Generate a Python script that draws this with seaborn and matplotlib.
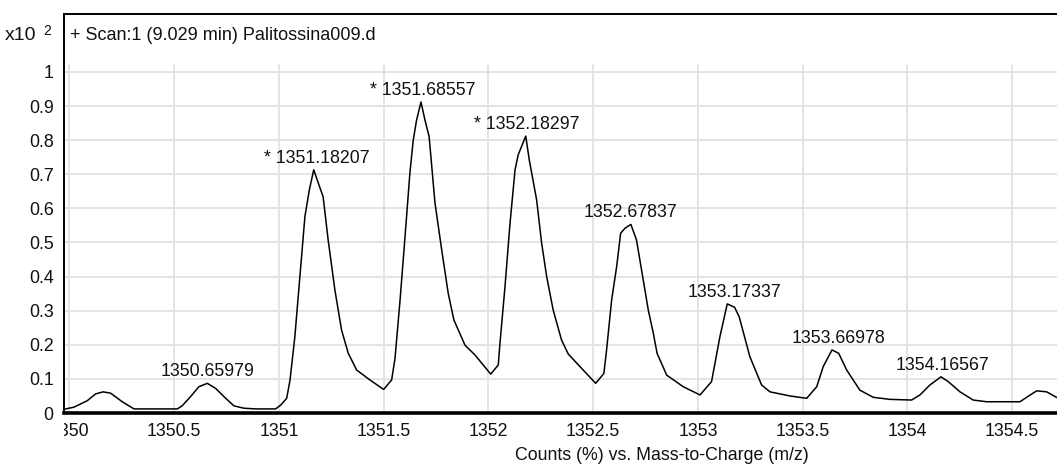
import matplotlib
matplotlib.use("Agg")
import matplotlib.pyplot as plt
import seaborn as sns
import pandas as pd
from matplotlib.transforms import Bbox, TransformedBbox, IdentityTransform

# profile spectrum (x10^2 counts %)
mz = [1349.974, 1350.021, 1350.085, 1350.125, 1350.161, 1350.197, 1350.252, 1350.308,
      1350.515, 1350.538, 1350.578, 1350.618, 1350.658, 1350.698, 1350.746, 1350.785,
      1350.833, 1350.889, 1350.984, 1351.008, 1351.037, 1351.053, 1351.076, 1351.100,
      1351.124, 1351.145, 1351.166, 1351.188, 1351.211, 1351.235, 1351.267, 1351.299,
      1351.331, 1351.371, 1351.434, 1351.500, 1351.538, 1351.554, 1351.578, 1351.601,
      1351.625, 1351.641, 1351.657, 1351.678, 1351.697, 1351.717, 1351.745, 1351.777,
      1351.808, 1351.835, 1351.888, 1351.936, 1352.011, 1352.047, 1352.055, 1352.079,
      1352.103, 1352.127, 1352.142, 1352.178, 1352.195, 1352.230, 1352.254, 1352.278,
      1352.309, 1352.349, 1352.381, 1352.437, 1352.512, 1352.551, 1352.564, 1352.588,
      1352.612, 1352.631, 1352.652, 1352.680, 1352.707, 1352.731, 1352.763, 1352.787,
      1352.805, 1352.851, 1352.930, 1353.010, 1353.065, 1353.105, 1353.140, 1353.175,
      1353.197, 1353.248, 1353.304, 1353.344, 1353.439, 1353.519, 1353.567, 1353.598,
      1353.640, 1353.672, 1353.710, 1353.773, 1353.837, 1353.916, 1354.020, 1354.060,
      1354.107, 1354.160, 1354.195, 1354.251, 1354.314, 1354.378, 1354.537, 1354.569,
      1354.617, 1354.665, 1354.714]
counts = [0.011, 0.017, 0.036, 0.056, 0.062, 0.058, 0.033, 0.012,
          0.012, 0.021, 0.048, 0.077, 0.087, 0.072, 0.043, 0.021,
          0.014, 0.012, 0.012, 0.023, 0.043, 0.097, 0.224, 0.400,
          0.576, 0.654, 0.713, 0.674, 0.634, 0.507, 0.361, 0.243,
          0.175, 0.126, 0.097, 0.069, 0.097, 0.160, 0.330, 0.510,
          0.703, 0.800, 0.859, 0.912, 0.859, 0.810, 0.615, 0.478,
          0.351, 0.273, 0.199, 0.170, 0.114, 0.141, 0.204, 0.370,
          0.556, 0.713, 0.757, 0.812, 0.742, 0.625, 0.498, 0.400,
          0.302, 0.214, 0.173, 0.136, 0.087, 0.116, 0.185, 0.331,
          0.429, 0.527, 0.542, 0.553, 0.507, 0.419, 0.302, 0.234,
          0.175, 0.111, 0.077, 0.053, 0.092, 0.224, 0.320, 0.310,
          0.282, 0.165, 0.082, 0.062, 0.050, 0.043, 0.077, 0.136,
          0.185, 0.175, 0.126, 0.067, 0.046, 0.040, 0.038, 0.053,
          0.082, 0.106, 0.092, 0.062, 0.038, 0.033, 0.033, 0.046,
          0.065, 0.062, 0.045]

peak_labels = ["* 1351.18207", "* 1351.68557", "* 1352.18297", "1350.65979",
               "1352.67837", "1353.17337", "1353.66978", "1354.16567"]
peak_mz = [1351.18207, 1351.68557, 1352.18297, 1350.65979,
           1352.67837, 1353.17337, 1353.66978, 1354.16567]
peak_height = [0.713, 0.912, 0.812, 0.087, 0.553, 0.320, 0.185, 0.106]

x_ticks = [1350, 1350.5, 1351, 1351.5, 1352, 1352.5, 1353, 1353.5, 1354, 1354.5]
x_tick_labels = ["1350", "1350.5", "1351", "1351.5", "1352", "1352.5", "1353",
                 "1353.5", "1354", "1354.5"]
y_ticks = [0, 0.1, 0.2, 0.3, 0.4, 0.5, 0.6, 0.7, 0.8, 0.9, 1.0]
y_tick_labels = ["0", "0.1", "0.2", "0.3", "0.4", "0.5", "0.6", "0.7", "0.8", "0.9", "1"]

sns.set_style("white")
plt.rcParams['font.family'] = ['Liberation Sans', 'DejaVu Sans']
plt.rcParams['font.size'] = 12.5

df = pd.DataFrame({"mz": mz, "counts": counts})

fig = plt.figure(figsize=(10.57, 4.68), dpi=100)
ax = fig.add_axes([64 / 1057, 1 - 413 / 468, 993 / 1057, 399 / 468])

xmin, xmax = 1349.974, 1354.714
ymax = 1.170
grid_top = 1.0205 / ymax

for yt in y_ticks[1:]:
    ax.axhline(yt, color="#e2e2e2", lw=1.3, zorder=0)
for xt in x_ticks:
    ax.axvline(xt, ymin=0, ymax=grid_top, color="#e2e2e2", lw=1.3, zorder=0)

sns.lineplot(data=df, x="mz", y="counts", ax=ax, color="black", lw=1.1,
             estimator=None, sort=False, zorder=3)

for lab, px, py in zip(peak_labels, peak_mz, peak_height):
    ax.annotate(lab, (px, py), xytext=(0, 5), textcoords="offset points",
                ha="center", va="baseline", fontsize=12.8, color="#111111")

ax.set_xlim(xmin, xmax)
ax.set_ylim(0, ymax)
ax.set_xticks(x_ticks)
ax.set_xticklabels(x_tick_labels)
ax.set_yticks(y_ticks)
ax.set_yticklabels(y_tick_labels)
ax.tick_params(axis="both", which="both", direction="out", length=5, width=1.2,
               color="black", labelcolor="#111111", pad=2.5, labelsize=12.8)
ax.tick_params(axis="x", length=4, pad=3.5)

ax.spines["right"].set_visible(False)
ax.spines["left"].set_linewidth(1.4)
ax.spines["top"].set_linewidth(1.4)
ax.spines["bottom"].set_linewidth(2.6)
for s in ax.spines.values():
    s.set_color("black")

ax.set_xlabel("Counts (%) vs. Mass-to-Charge (m/z)", fontsize=12.8, color="#111111")
ax.set_ylabel("")
ax.xaxis.set_label_coords(0.602, -0.085)

ax.text(0.006, 0.947, "+ Scan:1 (9.029 min) Palitossina009.d", transform=ax.transAxes,
        ha="left", va="center", fontsize=13, color="#111111")
fig.text(5 / 1057, 1 - 36 / 468, "x10", ha="left", va="center", fontsize=14,
         color="#111111")
fig.text(43 / 1057, 1 - 31 / 468, "2", ha="left", va="center", fontsize=10,
         color="#111111")

# the first tick label is cut at the axis line, as in the instrument export
fig.canvas.draw()
clip = TransformedBbox(Bbox([[64, 0], [1057, 468]]), IdentityTransform())
first = ax.get_xticklabels()[0]
first.set_clip_box(clip)
first.set_clip_on(True)

fig.savefig("out.png", dpi=100)
